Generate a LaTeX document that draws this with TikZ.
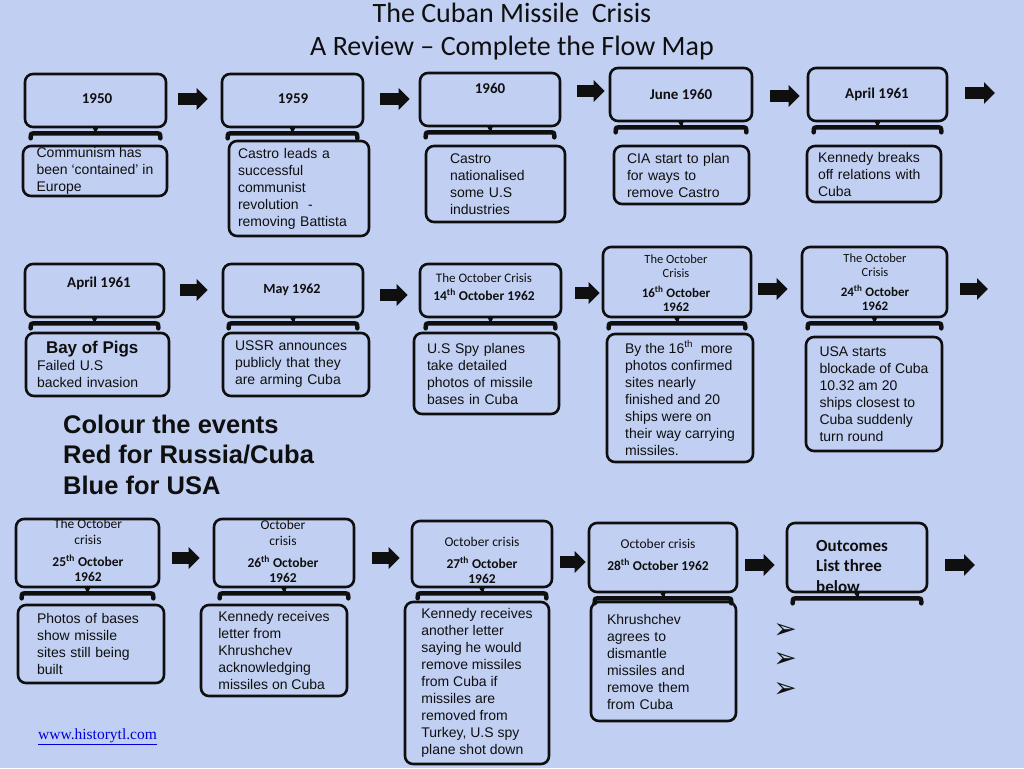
\documentclass[tikz,border=0pt]{standalone}
\usepackage{fontspec}
\setmainfont{Liberation Sans}
\newfontfamily\calfont{Carlito}
\newfontfamily\urlfont{Liberation Serif}
\newfontfamily\dingfont{DejaVu Sans}
\usetikzlibrary{arrows.meta,calc}
\definecolor{paper}{RGB}{193,208,242}
\definecolor{ink}{RGB}{15,15,15}
\definecolor{linkblue}{RGB}{0,0,220}
\tikzset{
    datebox/.style={draw=ink, line width=2.6pt, rounded corners=8pt, inner sep=0pt},
    yeartxt/.style={font=\calfont\bfseries\fontsize{15}{16}\selectfont, align=center, text=ink, inner sep=0pt},
    datetxt/.style={font=\calfont\bfseries\fontsize{13.5}{15}\selectfont, align=center, text=ink, inner sep=0pt},
    smalltxt/.style={font=\calfont\fontsize{13}{15}\selectfont, align=center, text=ink, inner sep=0pt},
    eventbox/.style={draw=ink, line width=2.6pt, rounded corners=8pt, align=left, text=ink,
        font=\fontsize{14}{17}\selectfont, inner sep=0pt},
    blockarr/.style={draw=ink, line width=12pt, -{Triangle[length=11pt,width=21pt]}},
    tiebar/.style={draw=ink, line width=4.5pt, line cap=round},
    bullet/.style={font=\dingfont\fontsize{28}{28}\selectfont, text=ink, inner sep=0pt},
}
% bar with a knob under a date box
\newcommand{\tiebar}[1]{%
    \draw[tiebar] ($(#1.south west)+(7,10)$) .. controls ($(#1.south west)+(7,5)$) .. ($(#1.south west)+(13,5)$)
        -- ($(#1.south east)+(-13,5)$) .. controls ($(#1.south east)+(-7,5)$) .. ($(#1.south east)+(-7,10)$);
    \draw[tiebar, line width=3pt] (#1.south) -- ($(#1.south)+(0,5)$);
    \fill[ink] (#1.south) circle (2.5);
}

\begin{document}
\begin{tikzpicture}[x=1pt,y=-1pt]
    \useasboundingbox (0,0) rectangle (1024,768);
    \fill[paper] (0,0) rectangle (1024,768);
    \node[font=\calfont\fontsize{28}{33}\selectfont, align=center, text=ink] (title) at (512,32)
        {The Cuban Missile~ Crisis\\A Review – Complete the Flow Map};
    % row 1
    \node[datebox, minimum width=141, minimum height=53] (b1) at (95.5,100.5) {};
    \node[datebox, minimum width=141, minimum height=53] (b2) at (292.5,100.5) {};
    \node[datebox, minimum width=140, minimum height=53] (b3) at (490,99.5) {};
    \node[datebox, minimum width=142, minimum height=53] (b4) at (681,94.5) {};
    \node[datebox, minimum width=139, minimum height=53] (b5) at (877.5,94.5) {};
    \node[yeartxt] (t1) at (97,99) {1950};
    \node[yeartxt] (t2) at (293,99) {1959};
    \node[yeartxt] (t3) at (490,88) {1960};
    \node[yeartxt] (t4) at (681,94) {June 1960};
    \node[yeartxt] (t5) at (877,94) {April 1961};
    \node[eventbox, minimum width=144, minimum height=50] (e1) at (95,171)
        {Communism has\\been ‘contained’ in\\Europe};
    \node[eventbox, minimum height=95, inner xsep=9, text width=122] (e2) at (299,188.5)
        {Castro leads a\\successful\\communist\\revolution~ -\\removing Battista};
    \node[eventbox, minimum height=76, inner xsep=24, text width=91] (e3) at (495.5,184)
        {Castro\\nationalised\\some U.S\\industries};
    \node[eventbox, minimum height=58, inner xsep=13, text width=109] (e4) at (681.5,175)
        {CIA start to plan\\for ways to\\remove Castro};
    \node[eventbox, minimum height=56, inner xsep=11, text width=112] (e5) at (874,174)
        {Kennedy breaks\\off relations with\\Cuba};
    % row 2
    \node[datebox, minimum width=139, minimum height=53] (b6) at (94.5,290.5) {};
    \node[datebox, minimum width=140, minimum height=53] (b7) at (293,290.5) {};
    \node[datebox, minimum width=141, minimum height=53] (b8) at (490.5,290.5) {};
    \node[datebox, minimum width=148, minimum height=70] (b9) at (677,282) {};
    \node[datebox, minimum width=145, minimum height=70] (b10) at (874.5,282) {};
    \node[yeartxt] (t6) at (99,283) {April 1961};
    \node[datetxt, font=\calfont\bfseries\fontsize{14}{15}\selectfont] (t7) at (292,290) {May 1962};
    \node[smalltxt] (s8) at (484,278) {The October Crisis};
    \node[datetxt] (t8) at (484,295) {14\textsuperscript{th} October 1962};
    \node[smalltxt, font=\calfont\fontsize{12.5}{14}\selectfont] (s9) at (676,266) {The October\\Crisis};
    \node[datetxt, font=\calfont\bfseries\fontsize{13}{14}\selectfont] (t9) at (676,299) {16\textsuperscript{th} October\\1962};
    \node[smalltxt, font=\calfont\fontsize{12.5}{14}\selectfont] (s10) at (875,265) {The October\\Crisis};
    \node[datetxt, font=\calfont\bfseries\fontsize{13}{14}\selectfont] (t10) at (875,298) {24\textsuperscript{th} October\\1962};
    \node[eventbox, minimum height=63, inner xsep=11, text width=121] (e6) at (97.5,364.5)
        {{\bfseries\fontsize{17}{18}\selectfont\hspace*{9pt}Bay of Pigs}\\Failed U.S\\backed invasion};
    \node[eventbox, minimum height=63, inner xsep=12, text width=122] (e7) at (296,364.5)
        {USSR announces\\publicly that they\\are arming Cuba};
    \node[eventbox, minimum height=81, inner xsep=13, text width=119] (e8) at (486.5,373.5)
        {U.S Spy planes\\take detailed\\photos of missile\\bases in Cuba};
    \node[eventbox, minimum width=146, minimum height=128] (e9) at (680,398)
        {By the 16\textsuperscript{th}~ more\\photos confirmed\\sites nearly\\finished and 20\\ships were on\\their way carrying\\missiles.};
    \node[eventbox, minimum width=136, minimum height=114] (e10) at (874,394)
        {USA starts\\blockade of Cuba\\10.32 am 20\\ships closest to\\Cuba suddenly\\turn round};
    \node[font=\bfseries\fontsize{25.5}{30.5}\selectfont, align=left, anchor=west, text=ink, inner sep=0pt] (note) at (63,454.5)
        {Colour the events\\Red for Russia/Cuba\\Blue for USA};
    % row 3
    \node[datebox, minimum width=143, minimum height=68] (b11) at (87.5,553) {};
    \node[datebox, minimum width=140, minimum height=68] (b12) at (284,553) {};
    \node[datebox, minimum width=140, minimum height=66] (b13) at (482,554) {};
    \node[datebox, minimum width=148, minimum height=69] (b14) at (663,557.5) {};
    \node[datebox, minimum width=140, minimum height=69] (b15) at (857,557.5) {};
    \node[smalltxt, font=\calfont\fontsize{13.5}{16}\selectfont] (s11) at (88,532) {The October\\crisis};
    \node[datetxt] (t11) at (88,568.5) {25\textsuperscript{th} October\\1962};
    \node[smalltxt, font=\calfont\fontsize{13.5}{16}\selectfont] (s12) at (283,533) {October\\crisis};
    \node[datetxt] (t12) at (283,569.5) {26\textsuperscript{th} October\\1962};
    \node[smalltxt, font=\calfont\fontsize{13.5}{16}\selectfont] (s13) at (482,542) {October crisis};
    \node[datetxt] (t13) at (482,570.5) {27\textsuperscript{th} October\\1962};
    \node[smalltxt, font=\calfont\fontsize{13.5}{16}\selectfont] (s14) at (658,544) {October crisis};
    \node[datetxt] (t14) at (658,565) {28\textsuperscript{th} October 1962};
    \node[datetxt, font=\calfont\bfseries\fontsize{17}{20.5}\selectfont, align=left, anchor=west] (t15) at (816,566)
        {Outcomes\\List three\\below};
    \node[eventbox, minimum height=78, inner xsep=19, text width=108] (e11) at (91,644)
        {Photos of bases\\show missile\\sites still being\\built};
    \node[eventbox, minimum width=146, minimum height=91] (e12) at (274,650.5)
        {Kennedy receives\\letter from\\Khrushchev\\acknowledging\\missiles on Cuba};
    \node[eventbox, minimum width=144, minimum height=162] (e13) at (477,683)
        {Kennedy receives\\another letter\\saying he would\\remove missiles\\from Cuba if\\missiles are\\removed from\\Turkey, U.S spy\\plane shot down};
    \node[eventbox, minimum height=119, inner xsep=16, text width=113] (e14) at (663.5,661.5)
        {Khrushchev\\agrees to\\dismantle\\missiles and\\remove them\\from Cuba};
    \node[bullet] (p1) at (785,631) {➢};
    \node[bullet] (p2) at (785,660) {➢};
    \node[bullet] (p3) at (785,690) {➢};
    \node[font=\urlfont\fontsize{15.5}{15.5}\selectfont, text=linkblue, anchor=west, inner sep=0pt] (url) at (38,737)
        {\underline{www.historytl.com}};
    % bars under the date boxes
    \tiebar{b1} \tiebar{b2} \tiebar{b3} \tiebar{b4} \tiebar{b5}
    \tiebar{b6} \tiebar{b7} \tiebar{b8} \tiebar{b9} \tiebar{b10}
    \tiebar{b11} \tiebar{b12} \tiebar{b13} \tiebar{b14} \tiebar{b15}
    % arrows
    \coordinate (end1) at (995,93);
    \coordinate (end2) at (988,289);
    \coordinate (end3) at (975,565);
    \draw[blockarr] ($(b1.east)+(11,-1.5)$) -- ($(b2.west)+(-13,-1.5)$);
    \draw[blockarr] ($(b2.east)+(16,-1.5)$) -- ($(b3.west)+(-9,-0.5)$);
    \draw[blockarr] ($(b3.east)+(16,-8.5)$) -- ($(b4.west)+(-4,-3.5)$);
    \draw[blockarr] ($(b4.east)+(17,1.5)$) -- ($(b5.west)+(-7,1.5)$);
    \draw[blockarr] ($(b5.east)+(17,-1.5)$) -- (end1);
    \draw[blockarr] ($(b6.east)+(15,-0.5)$) -- ($(b7.west)+(-14,-0.5)$);
    \draw[blockarr] ($(b7.east)+(16,4.5)$) -- ($(b8.west)+(-11,4.5)$);
    \draw[blockarr] ($(b8.east)+(13,2.5)$) -- ($(b9.west)+(-2,11)$);
    \draw[blockarr] ($(b9.east)+(6,7)$) -- ($(b10.west)+(-13,7)$);
    \draw[blockarr] ($(b10.east)+(12,7)$) -- (end2);
    \draw[blockarr] ($(b11.east)+(12,5)$) -- ($(b12.west)+(-13,5)$);
    \draw[blockarr] ($(b12.east)+(17,5)$) -- ($(b13.west)+(-11,4)$);
    \draw[blockarr] ($(b13.east)+(7,8)$) -- ($(b14.west)+(-2,4.5)$);
    \draw[blockarr] ($(b14.east)+(7,7.5)$) -- ($(b15.west)+(-11,7.5)$);
    \draw[blockarr] ($(b15.east)+(17,7.5)$) -- (end3);
\end{tikzpicture}
\end{document}
